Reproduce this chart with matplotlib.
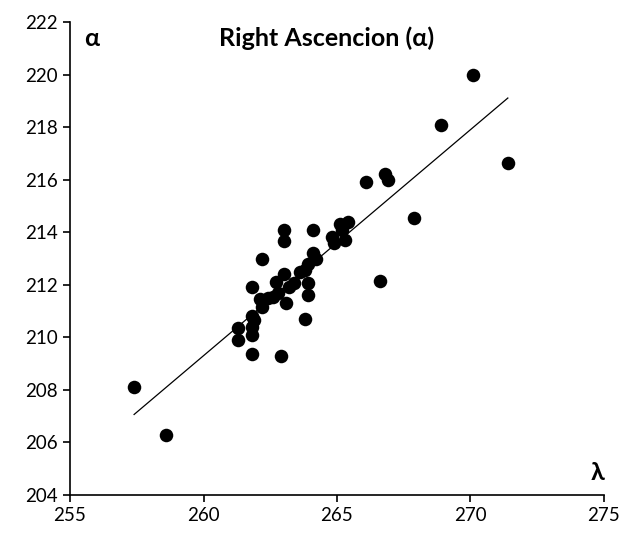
import numpy as np
import matplotlib
matplotlib.use('Agg')
import matplotlib.pyplot as plt

# %% data: ecliptic longitude (lambda) vs right ascension (alpha)
lam = [257.4, 258.6, 270.1, 268.9, 271.4, 266.1, 266.8, 266.9, 267.9, 266.6,
       263.0, 263.0, 264.1, 265.1, 265.4, 265.2, 264.8, 264.9, 265.3, 264.1,
       264.2, 263.9, 263.8, 263.6, 263.9, 263.9, 263.8, 262.2, 263.0, 262.7,
       263.2, 263.4, 261.8, 262.1, 262.4, 262.6, 262.8, 263.1, 262.2, 261.8,
       261.9, 261.8, 261.3, 261.3, 261.8, 261.8, 262.9]
ra = [208.1, 206.3, 220.0, 218.1, 216.65, 215.9, 216.2, 216.0, 214.55, 212.15,
      214.1, 213.65, 214.1, 214.3, 214.4, 214.1, 213.8, 213.6, 213.7, 213.2,
      213.0, 212.8, 212.55, 212.5, 212.05, 211.6, 210.7, 213.0, 212.4, 212.1,
      211.9, 212.05, 211.9, 211.45, 211.5, 211.55, 211.7, 211.3, 211.15, 210.8,
      210.65, 210.4, 210.35, 209.9, 210.1, 209.35, 209.3]

xticks = [255, 260, 265, 270, 275]
yticks = [204, 206, 208, 210, 212, 214, 216, 218, 220, 222]

plt.rcParams['font.family'] = ['Lato', 'DejaVu Sans']

fig = plt.figure(figsize=(6.23, 5.35), dpi=100)
ax = fig.add_axes([0.1124, 0.0748, 0.857, 0.884])

ax.scatter(lam, ra, s=95, color='black', zorder=3, linewidths=0)

# linear trendline over the data range
k, b = np.polyfit(lam, ra, 1)
xl = np.array([min(lam), max(lam)])
ax.plot(xl, k*xl + b, color='black', lw=0.9, zorder=2)

ax.set_xlim(255, 275)
ax.set_ylim(204, 222)
ax.set_xticks(xticks)
ax.set_yticks(yticks)

# =============================================================================
# set_plot
# =============================================================================
ax.spines['top'].set_visible(False)
ax.spines['right'].set_visible(False)
ax.spines['bottom'].set_linewidth(1.2)
ax.spines['left'].set_linewidth(1.2)
ax.tick_params(which='major', direction='out', length=5, width=1.2, color='k',
               labelsize=13.5, pad=4)

ax.text(0.48, 0.966, 'Right Ascencion (α)', transform=ax.transAxes,
        ha='center', va='center', fontsize=18, fontweight='bold')
ax.text(0.041, 0.966, 'α', transform=ax.transAxes,
        ha='center', va='center', fontsize=18, fontweight='bold')
ax.text(1.0, 0.047, 'λ', transform=ax.transAxes,
        ha='right', va='center', fontsize=18, fontweight='bold')

plt.savefig('out.png', dpi=100)
